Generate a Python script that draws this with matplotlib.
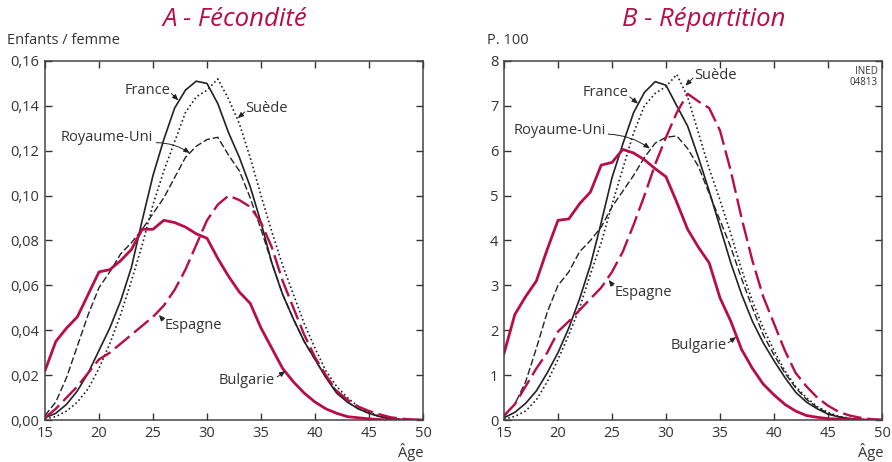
import matplotlib
matplotlib.use("Agg")
import matplotlib.pyplot as plt

plt.rcParams['font.family'] = ['Open Sans', 'DejaVu Sans']

# ---------------- data ----------------
ages = list(range(15, 51))

x_ticks = [15, 20, 25, 30, 35, 40, 45, 50]
x_ticklabels = ['15', '20', '25', '30', '35', '40', '45', '50']
yA_ticks = [0.00, 0.02, 0.04, 0.06, 0.08, 0.10, 0.12, 0.14, 0.16]
yA_ticklabels = ['0,00', '0,02', '0,04', '0,06', '0,08', '0,10', '0,12', '0,14', '0,16']
yB_ticks = [0, 1, 2, 3, 4, 5, 6, 7, 8]
yB_ticklabels = ['0', '1', '2', '3', '4', '5', '6', '7', '8']

# A - Fécondité (enfants / femme)
france_fec = [0.001, 0.003, 0.007, 0.013, 0.021, 0.031, 0.041, 0.053, 0.068, 0.089,
              0.109, 0.125, 0.139, 0.147, 0.151, 0.150, 0.141, 0.128, 0.117, 0.104,
              0.088, 0.070, 0.056, 0.045, 0.035, 0.027, 0.019, 0.012, 0.008, 0.005,
              0.003, 0.0015, 0.0006, 0.0002, 0.0001, 0.0]
suede_fec = [0.0005, 0.0015, 0.004, 0.008, 0.014, 0.023, 0.034, 0.047, 0.062, 0.078,
             0.096, 0.111, 0.124, 0.137, 0.144, 0.147, 0.152, 0.143, 0.132, 0.117,
             0.100, 0.084, 0.069, 0.056, 0.043, 0.032, 0.022, 0.015, 0.010, 0.006,
             0.0035, 0.0018, 0.0008, 0.0003, 0.0001, 0.0]
ru_fec = [0.002, 0.008, 0.019, 0.033, 0.047, 0.059, 0.066, 0.074, 0.079, 0.085,
          0.092, 0.099, 0.108, 0.117, 0.122, 0.125, 0.126, 0.118, 0.111, 0.099,
          0.085, 0.070, 0.056, 0.045, 0.035, 0.027, 0.019, 0.013, 0.008, 0.005,
          0.003, 0.0015, 0.0006, 0.0002, 0.0001, 0.0]
espagne_fec = [0.001, 0.005, 0.010, 0.015, 0.021, 0.027, 0.030, 0.034, 0.038, 0.042,
               0.046, 0.051, 0.058, 0.067, 0.078, 0.089, 0.096, 0.100, 0.098, 0.095,
               0.088, 0.077, 0.062, 0.050, 0.038, 0.028, 0.020, 0.013, 0.009, 0.006,
               0.004, 0.0025, 0.0012, 0.0006, 0.0002, 0.0]
bulgarie_fec = [0.022, 0.035, 0.041, 0.046, 0.056, 0.066, 0.067, 0.071, 0.076, 0.085,
                0.085, 0.089, 0.088, 0.086, 0.083, 0.081, 0.072, 0.064, 0.057, 0.052,
                0.041, 0.032, 0.023, 0.017, 0.012, 0.008, 0.005, 0.003, 0.0015, 0.001,
                0.0005, 0.0002, 0.0, 0.0, 0.0, 0.0]

# B - Répartition (p. 100)
france_rep = [0.05, 0.17, 0.37, 0.65, 1.05, 1.5, 2.05, 2.7, 3.45, 4.4,
              5.4, 6.15, 6.85, 7.3, 7.54, 7.46, 7.0, 6.55, 5.85, 5.1,
              4.3, 3.5, 2.8, 2.2, 1.72, 1.32, 0.95, 0.62, 0.4, 0.25,
              0.13, 0.07, 0.03, 0.01, 0.005, 0.0]
suede_rep = [0.02, 0.08, 0.2, 0.45, 0.85, 1.35, 1.9, 2.5, 3.25, 3.95,
             4.8, 5.6, 6.4, 7.0, 7.28, 7.43, 7.7, 7.2, 6.4, 5.6,
             4.9, 4.15, 3.35, 2.65, 2.05, 1.55, 1.1, 0.75, 0.5, 0.3,
             0.17, 0.08, 0.04, 0.015, 0.005, 0.0]
ru_rep = [0.08, 0.35, 0.85, 1.6, 2.4, 3.0, 3.3, 3.75, 4.0, 4.3,
          4.75, 5.1, 5.45, 5.85, 6.17, 6.3, 6.33, 6.05, 5.65, 5.05,
          4.45, 3.85, 3.15, 2.5, 1.9, 1.45, 1.05, 0.72, 0.46, 0.28,
          0.15, 0.07, 0.03, 0.01, 0.0, 0.0]
espagne_rep = [0.1, 0.35, 0.75, 1.15, 1.5, 1.97, 2.2, 2.45, 2.7, 2.95,
               3.3, 3.75, 4.35, 5.0, 5.7, 6.3, 6.85, 7.27, 7.1, 6.95,
               6.45, 5.55, 4.5, 3.55, 2.75, 2.15, 1.55, 1.05, 0.75, 0.5,
               0.32, 0.18, 0.1, 0.05, 0.02, 0.0]
bulgarie_rep = [1.48, 2.35, 2.75, 3.1, 3.8, 4.45, 4.48, 4.82, 5.08, 5.68,
                5.74, 6.03, 5.95, 5.8, 5.6, 5.42, 4.85, 4.25, 3.85, 3.5,
                2.72, 2.2, 1.57, 1.15, 0.8, 0.56, 0.35, 0.2, 0.1, 0.06,
                0.03, 0.02, 0.01, 0.0, 0.0, 0.0]

# ---------------- style ----------------
CRIMSON = '#b80d46'
TXT = '#333333'
W, H = 892, 462

fig = plt.figure(figsize=(W / 100, H / 100), dpi=100)
axA = fig.add_axes([45 / W, 1 - 420 / H, 378 / W, 359 / H])
axB = fig.add_axes([504 / W, 1 - 420 / H, 378 / W, 359 / H])


def style(ax, yticks, ylabels, ymax):
    ax.set_xlim(15, 50)
    ax.set_ylim(0, ymax)
    ax.set_xticks(x_ticks)
    ax.set_xticklabels(x_ticklabels)
    ax.set_yticks(yticks)
    ax.set_yticklabels(ylabels)
    ax.tick_params(direction='in', length=5, width=1, top=True, right=True,
                   labelsize=10.5, colors=TXT, pad=4)
    for s in ax.spines.values():
        s.set_color('#444444')
        s.set_linewidth(1.1)


def draw(ax, fr, su, ru, es, bu):
    ax.plot(ages, ru, color='#222222', lw=1.0, linestyle=(0, (5, 2)))
    ax.plot(ages, su, color='#222222', lw=1.2, linestyle=(0, (1, 1.6)))
    ax.plot(ages, fr, color='#222222', lw=1.2)
    ax.plot(ages, es, color=CRIMSON, lw=1.7, linestyle=(0, (8, 2.5)))
    ax.plot(ages, bu, color=CRIMSON, lw=2.0)


def label(ax, text, txy, a0, a1, rad=0.0):
    ax.text(txy[0], txy[1], text, ha='center', va='center', fontsize=10.5, color=TXT)
    ax.annotate('', xy=a1, xytext=a0,
                arrowprops=dict(arrowstyle='-|>,head_length=0.35,head_width=0.15',
                                lw=0.7, color='#222222', shrinkA=0, shrinkB=0,
                                connectionstyle='arc3,rad=%s' % rad))


style(axA, yA_ticks, yA_ticklabels, 0.16)
style(axB, yB_ticks, yB_ticklabels, 8)
draw(axA, france_fec, suede_fec, ru_fec, espagne_fec, bulgarie_fec)
draw(axB, france_rep, suede_rep, ru_rep, espagne_rep, bulgarie_rep)

# panel A labels
label(axA, 'France', (24.5, 0.147), (26.7, 0.1455), (27.35, 0.1425))
label(axA, 'Suède', (35.5, 0.139), (33.5, 0.1373), (32.85, 0.1345))
label(axA, 'Royaume-Uni', (20.7, 0.1257), (25.3, 0.1236), (28.4, 0.119), rad=-0.15)
label(axA, 'Espagne', (28.7, 0.0419), (25.95, 0.0446), (25.55, 0.0468))
label(axA, 'Bulgarie', (33.7, 0.0178), (36.5, 0.0192), (37.25, 0.0218))

# panel B labels
label(axB, 'France', (24.4, 7.29), (26.65, 7.2), (27.4, 7.05))
label(axB, 'Suède', (34.55, 7.67), (32.5, 7.62), (31.8, 7.45))
label(axB, 'Royaume-Uni', (20.2, 6.46), (24.65, 6.37), (28.5, 6.05), rad=-0.15)
label(axB, 'Espagne', (27.9, 2.85), (25.1, 2.99), (24.7, 3.12))
label(axB, 'Bulgarie', (33.0, 1.65), (35.75, 1.72), (36.5, 1.85))

axB.text(0.988, 0.985, 'INED\n04813', transform=axB.transAxes, ha='right', va='top',
         fontsize=7, color=TXT, linespacing=0.95)

# titles and axis captions
fig.text(235 / W, 1 - 19 / H, 'A - Fécondité', ha='center', va='center',
         fontsize=18.5, style='italic', color=CRIMSON)
fig.text(704 / W, 1 - 19 / H, 'B - Répartition', ha='center', va='center',
         fontsize=18.5, style='italic', color=CRIMSON)
fig.text(7 / W, 1 - 40 / H, 'Enfants / femme', ha='left', va='center', fontsize=10.5, color=TXT)
fig.text(487 / W, 1 - 40 / H, 'P. 100', ha='left', va='center', fontsize=10.5, color=TXT)
fig.text(424 / W, 1 - 452 / H, 'Âge', ha='right', va='center', fontsize=10.5, color=TXT)
fig.text(884 / W, 1 - 452 / H, 'Âge', ha='right', va='center', fontsize=10.5, color=TXT)

fig.savefig('out.png', dpi=100)
